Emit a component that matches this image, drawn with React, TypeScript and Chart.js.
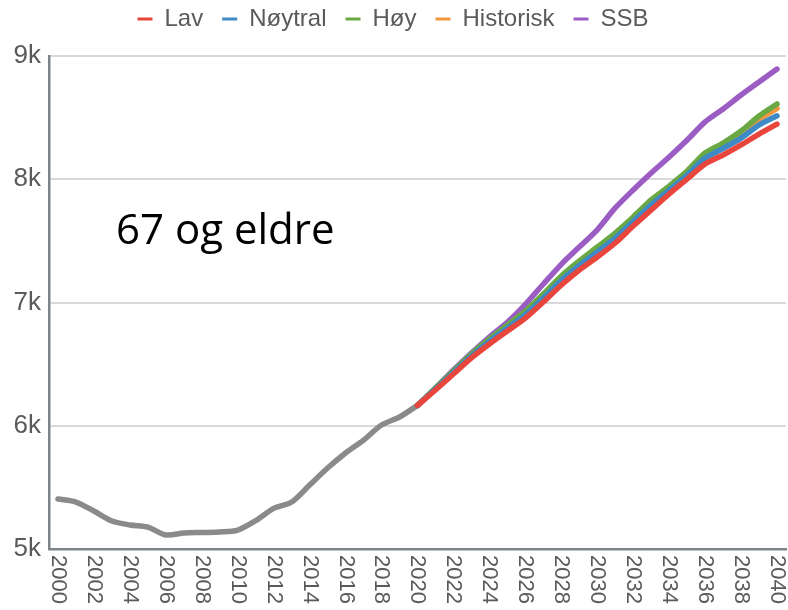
import React, { useEffect, useRef } from 'react';
import { Chart, registerables } from 'chart.js';

Chart.register(...registerables);

const years = [
  '2000', '2001', '2002', '2003', '2004', '2005', '2006', '2007', '2008', '2009',
  '2010', '2011', '2012', '2013', '2014', '2015', '2016', '2017', '2018', '2019',
  '2020', '2021', '2022', '2023', '2024', '2025', '2026', '2027', '2028', '2029',
  '2030', '2031', '2032', '2033', '2034', '2035', '2036', '2037', '2038', '2039', '2040',
];

// Observed history 2000-2020
const observed = [
  5406, 5381, 5308, 5227, 5195, 5178, 5114, 5130, 5134, 5138,
  5154, 5230, 5330, 5381, 5519, 5657, 5779, 5884, 6006, 6071, 6165,
];

// Projections 2020-2040
const lav = [
  6165, 6290, 6420, 6550, 6663, 6769, 6874, 7004, 7142, 7264,
  7369, 7483, 7621, 7751, 7880, 8002, 8124, 8197, 8278, 8367, 8448,
];
const noytral = [
  6165, 6298, 6432, 6566, 6684, 6793, 6902, 7037, 7180, 7300,
  7410, 7522, 7658, 7792, 7912, 8035, 8170, 8250, 8334, 8440, 8515,
];
const hoy = [
  6165, 6306, 6444, 6582, 6704, 6817, 6931, 7069, 7215, 7337,
  7450, 7564, 7694, 7832, 7945, 8067, 8213, 8294, 8391, 8513, 8611,
];
const historisk = [
  6165, 6303, 6440, 6576, 6697, 6808, 6920, 7057, 7202, 7323,
  7435, 7548, 7680, 7816, 7932, 8055, 8196, 8276, 8368, 8485, 8575,
];
const ssb = [
  6165, 6306, 6452, 6590, 6720, 6840, 6985, 7150, 7310, 7450,
  7590, 7767, 7913, 8051, 8180, 8318, 8465, 8570, 8683, 8789, 8894,
];

const seriesNames = ['Lav', 'Nøytral', 'Høy', 'Historisk', 'SSB'];
const annotationText = '67 og eldre';

const FONT = "'Liberation Sans', Arial, sans-serif";
const TEXT_COLOR = '#5a5a5a';

const pad = (arr: number[]) => [...new Array(years.length - arr.length).fill(null), ...arr];
const padEnd = (arr: number[]) => [...arr, ...new Array(years.length - arr.length).fill(null)];

export default function App() {
  const ref = useRef<HTMLCanvasElement | null>(null);

  useEffect(() => {
    if (!ref.current) return;

    const legendHeight = {
      id: 'legendHeight',
      beforeInit(chart: any) {
        const orig = chart.legend.fit;
        chart.legend.fit = function () {
          orig.call(this);
          this.height = 68;
        };
      },
    };

    const xLabels = {
      id: 'xLabels',
      afterDraw(chart: any) {
        const ctx = chart.ctx;
        const xs = chart.scales.x;
        ctx.save();
        ctx.fillStyle = TEXT_COLOR;
        ctx.font = `22px ${FONT}`;
        ctx.textAlign = 'left';
        ctx.textBaseline = 'middle';
        years.forEach((lab, i) => {
          if (i % 2 !== 0) return;
          const x = xs.getPixelForValue(i);
          ctx.save();
          ctx.translate(x, chart.chartArea.bottom + 6);
          ctx.rotate(Math.PI / 2);
          ctx.fillText(lab, 0, 0);
          ctx.restore();
        });
        ctx.restore();
      },
    };

    const annotation = {
      id: 'annotation',
      afterDraw(chart: any) {
        const ctx = chart.ctx;
        const a = chart.chartArea;
        ctx.save();
        ctx.fillStyle = '#000';
        ctx.font = "42px 'Open Sans', sans-serif";
        ctx.textAlign = 'left';
        ctx.textBaseline = 'alphabetic';
        ctx.fillText(annotationText, a.left + 67, a.top + 188);
        ctx.restore();
      },
    };

    const colors = ['#e8453c', '#3d8ac6', '#6aa843', '#f0973f', '#9b5cc4'];
    const values = [lav, noytral, hoy, historisk, ssb];

    const datasets: any[] = seriesNames.map((name, i) => ({
      label: name,
      data: pad(values[i]),
      borderColor: colors[i],
      backgroundColor: colors[i],
      borderWidth: 5.5,
      pointRadius: 0,
      tension: 0.25,
      borderCapStyle: 'round',
      borderJoinStyle: 'round',
      fill: false,
    }));
    datasets.push({
      label: 'Observert',
      data: padEnd(observed),
      borderColor: '#8a8a8a',
      backgroundColor: '#8a8a8a',
      borderWidth: 5.5,
      pointRadius: 0,
      tension: 0.3,
      borderCapStyle: 'round',
      borderJoinStyle: 'round',
      fill: false,
    });

    const chart = new Chart(ref.current, {
      type: 'line',
      data: { labels: years, datasets },
      options: {
        animation: false,
        responsive: false,
        maintainAspectRatio: false,
        layout: { padding: { top: -12, right: 2, left: 0, bottom: 0 } },
        plugins: {
          tooltip: { enabled: false },
          legend: {
            position: 'top',
            align: 'center',
            labels: {
              font: { family: FONT, size: 24 },
              color: TEXT_COLOR,
              boxWidth: 15,
              boxHeight: 3,
              padding: 19,
              filter: (item: any) => item.datasetIndex < 5,
              generateLabels: (c: any) =>
                Chart.defaults.plugins.legend.labels
                  .generateLabels(c)
                  .map((it: any) => ({ ...it, lineWidth: 0, fillStyle: it.strokeStyle })),
            },
          },
        },
        scales: {
          x: {
            type: 'category',
            offset: true,
            grid: { display: false, drawTicks: false },
            border: { display: true, color: '#7d858b', width: 2.5 },
            ticks: { display: false },
            afterFit: (s: any) => {
              s.height = 61;
            },
          },
          y: {
            min: 5000,
            max: 9000,
            grid: { color: '#d9d9d9', lineWidth: 2, drawTicks: false },
            border: { display: true, color: '#7d858b', width: 2.5 },
            ticks: {
              stepSize: 1000,
              padding: 8,
              color: TEXT_COLOR,
              font: { family: FONT, size: 26 },
              callback: (v: any) => `${Number(v) / 1000}k`,
            },
            afterFit: (s: any) => {
              s.width = 49;
            },
          },
        },
      },
      plugins: [legendHeight, xLabels, annotation],
    });

    return () => chart.destroy();
  }, []);

  return (
    <div style={{ position: 'fixed', left: 0, top: 0, width: 788, height: 610, background: '#fff' }}>
      <canvas ref={ref} width={788} height={610} style={{ width: 788, height: 610 }} />
    </div>
  );
}
